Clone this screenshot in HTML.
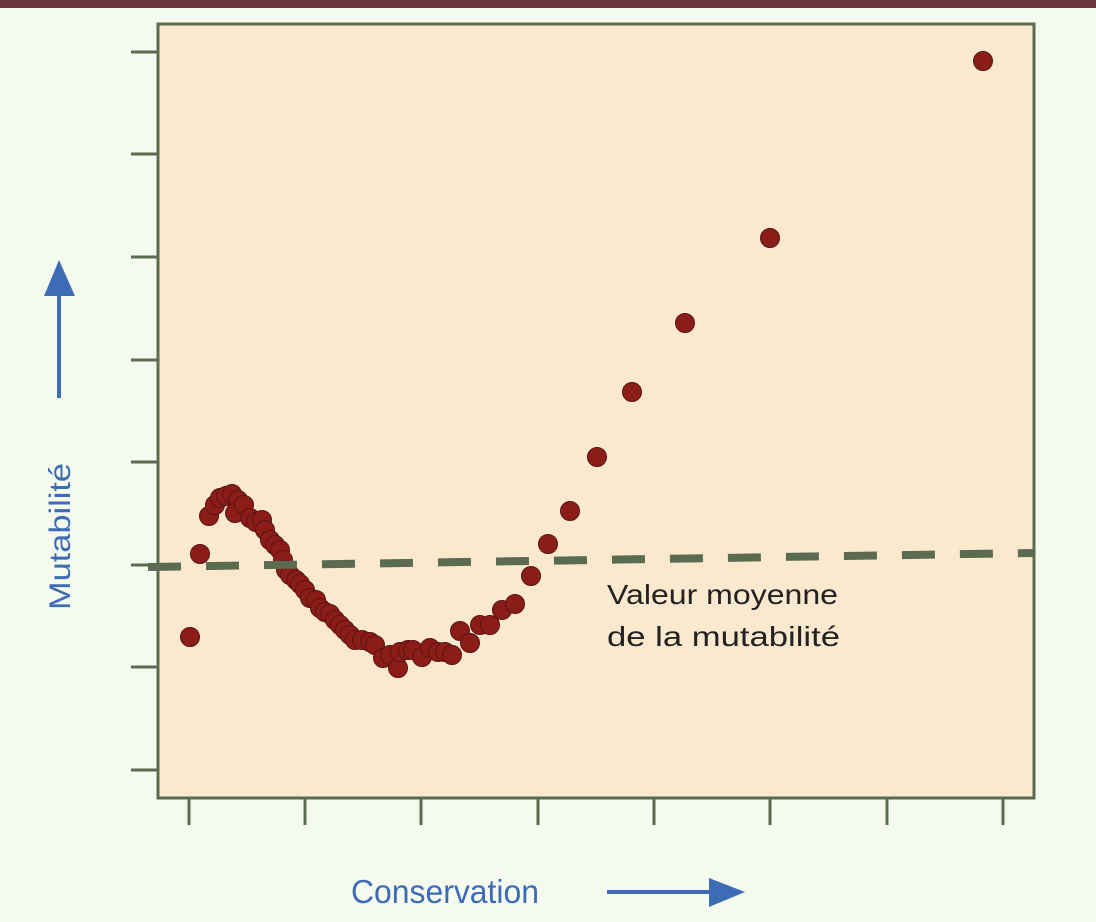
<!DOCTYPE html>
<html><head><meta charset="utf-8"><style>
html,body{margin:0;padding:0;background:#f4fbee;}
svg{display:block;}
</style></head><body>
<svg width="1096" height="922" viewBox="0 0 1096 922" xmlns="http://www.w3.org/2000/svg">
<rect x="0" y="0" width="1096" height="922" fill="#f4fbee"/>
<rect x="0" y="0" width="1096" height="8" fill="#6b3640"/>
<rect x="158" y="24" width="876" height="774" fill="#fae8cf" stroke="#5a6b50" stroke-width="3"/>
<g stroke="#5a6b50" stroke-width="3">
<line x1="131" y1="52" x2="158" y2="52"/><line x1="131" y1="154" x2="158" y2="154"/>
<line x1="131" y1="257" x2="158" y2="257"/><line x1="131" y1="360" x2="158" y2="360"/>
<line x1="131" y1="462" x2="158" y2="462"/><line x1="131" y1="565" x2="158" y2="565"/>
<line x1="131" y1="667" x2="158" y2="667"/><line x1="131" y1="770" x2="158" y2="770"/>
<line x1="189" y1="798" x2="189" y2="825"/><line x1="305" y1="798" x2="305" y2="825"/>
<line x1="421" y1="798" x2="421" y2="825"/><line x1="538" y1="798" x2="538" y2="825"/>
<line x1="654" y1="798" x2="654" y2="825"/><line x1="770" y1="798" x2="770" y2="825"/>
<line x1="887" y1="798" x2="887" y2="825"/><line x1="1003" y1="798" x2="1003" y2="825"/>
</g>
<g fill="#8b1c18" stroke="#5a1512" stroke-width="1">
<circle cx="190" cy="637" r="9.5"/><circle cx="200" cy="554" r="9.5"/><circle cx="209" cy="516" r="9.5"/>
<circle cx="215" cy="505" r="9.5"/><circle cx="220" cy="498" r="9.5"/><circle cx="226" cy="496" r="9.5"/>
<circle cx="232" cy="494" r="9.5"/><circle cx="238" cy="500" r="9.5"/><circle cx="235" cy="513" r="9.5"/>
<circle cx="244" cy="505" r="9.5"/><circle cx="250" cy="518" r="9.5"/><circle cx="256" cy="522" r="9.5"/>
<circle cx="262" cy="520" r="9.5"/><circle cx="265" cy="530" r="9.5"/><circle cx="270" cy="540" r="9.5"/>
<circle cx="275" cy="545" r="9.5"/><circle cx="280" cy="550" r="9.5"/><circle cx="283" cy="560" r="9.5"/>
<circle cx="286" cy="570" r="9.5"/><circle cx="290" cy="575" r="9.5"/><circle cx="296" cy="580" r="9.5"/>
<circle cx="300" cy="584" r="9.5"/><circle cx="305" cy="590" r="9.5"/><circle cx="310" cy="598" r="9.5"/>
<circle cx="316" cy="600" r="9.5"/><circle cx="320" cy="608" r="9.5"/><circle cx="325" cy="612" r="9.5"/>
<circle cx="330" cy="614" r="9.5"/><circle cx="335" cy="620" r="9.5"/><circle cx="340" cy="625" r="9.5"/>
<circle cx="345" cy="630" r="9.5"/><circle cx="350" cy="635" r="9.5"/><circle cx="355" cy="640" r="9.5"/>
<circle cx="362" cy="640" r="9.5"/><circle cx="370" cy="642" r="9.5"/><circle cx="375" cy="645" r="9.5"/>
<circle cx="383" cy="658" r="9.5"/><circle cx="390" cy="655" r="9.5"/><circle cx="398" cy="668" r="9.5"/>
<circle cx="400" cy="652" r="9.5"/><circle cx="408" cy="650" r="9.5"/><circle cx="413" cy="650" r="9.5"/>
<circle cx="422" cy="657" r="9.5"/><circle cx="430" cy="648" r="9.5"/><circle cx="438" cy="652" r="9.5"/>
<circle cx="445" cy="652" r="9.5"/><circle cx="452" cy="655" r="9.5"/><circle cx="460" cy="631" r="9.5"/>
<circle cx="470" cy="643" r="9.5"/><circle cx="480" cy="625" r="9.5"/><circle cx="490" cy="625" r="9.5"/>
<circle cx="502" cy="610" r="9.5"/><circle cx="515" cy="604" r="9.5"/><circle cx="531" cy="576" r="9.5"/>
<circle cx="548" cy="544" r="9.5"/><circle cx="570" cy="511" r="9.5"/><circle cx="597" cy="457" r="9.5"/>
<circle cx="632" cy="392" r="9.5"/><circle cx="685" cy="323" r="9.5"/><circle cx="770" cy="238" r="9.5"/>
<circle cx="983" cy="61" r="9.5"/>
</g>
<line x1="148" y1="567" x2="1034" y2="553" stroke="#5a6b50" stroke-width="8" stroke-dasharray="33,25"/>
<text x="607" y="604" font-family="Liberation Sans, sans-serif" font-size="28" fill="#222" textLength="231" lengthAdjust="spacingAndGlyphs">Valeur moyenne</text>
<text x="607" y="646" font-family="Liberation Sans, sans-serif" font-size="28" fill="#222" textLength="233" lengthAdjust="spacingAndGlyphs">de la mutabilité</text>
<text x="351" y="903" font-family="Liberation Sans, sans-serif" font-size="33" fill="#3d6bb5" textLength="188" lengthAdjust="spacingAndGlyphs">Conservation</text>
<line x1="607" y1="892" x2="712" y2="892" stroke="#3d6bb5" stroke-width="4"/>
<polygon points="745,892 709,878 709,907" fill="#3d6bb5"/>
<line x1="59" y1="398" x2="59" y2="292" stroke="#3d6bb5" stroke-width="4"/>
<polygon points="59,260 44,296 75,296" fill="#3d6bb5"/>
<text transform="translate(70,610) rotate(-90)" font-family="Liberation Sans, sans-serif" font-size="30" fill="#3d6bb5" textLength="147" lengthAdjust="spacingAndGlyphs">Mutabilité</text>
</svg>
</body></html>
